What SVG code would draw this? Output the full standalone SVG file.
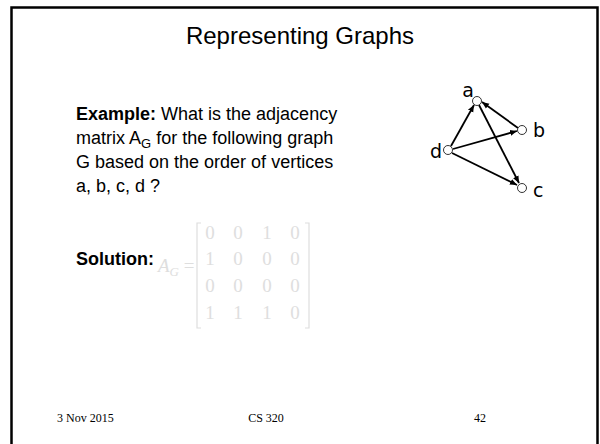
<svg xmlns="http://www.w3.org/2000/svg" width="600" height="444" viewBox="0 0 600 444">
<defs>
<marker id="ah" markerWidth="8" markerHeight="8" refX="7" refY="4" orient="auto" markerUnits="userSpaceOnUse">
<path d="M0,1 L7,4 L0,7 z" fill="#000"/>
</marker>
<style>
.t{font-family:"Liberation Sans",Arial,sans-serif;fill:#000}
.b{font-weight:bold}
.n{fill:#fff;stroke:#000;stroke-width:0.8}
.lbl{font-family:"DejaVu Sans","Liberation Sans",sans-serif;font-size:19px;fill:#000}
.e{stroke:#000;stroke-width:1.8;fill:none;marker-end:url(#ah)}
.m{font-family:"Liberation Serif","Times New Roman",serif;font-size:19px;fill:#dedede}
.f{font-family:"Liberation Serif","Times New Roman",serif;font-size:12px;fill:#000}
</style>
</defs>
<rect x="0" y="0" width="600" height="444" fill="#fff"/>
<rect x="11.5" y="7.5" width="586" height="450" fill="none" stroke="#000" stroke-width="2.5"/>
<text class="t" x="300" y="44" font-size="24" text-anchor="middle">Representing Graphs</text>
<g class="t" font-size="18">
<text x="76" y="120"><tspan class="b">Example:</tspan> What is the adjacency</text>
<text x="76" y="144">matrix A<tspan font-size="13" dy="4">G</tspan><tspan dy="-4"> for the following graph</tspan></text>
<text x="76" y="168">G based on the order of vertices</text>
<text x="76" y="192">a, b, c, d ?</text>
<text x="76" y="265" class="b">Solution:</text>
</g>
<g id="matrix">
<text class="m" x="158" y="272" font-style="italic">A<tspan font-size="13" dy="4">G</tspan><tspan dy="-4" font-style="normal"> =</tspan></text>
<path d="M201,223 H197 V328 H201 M305,223 H309 V328 H305" fill="none" stroke="#dedede" stroke-width="1.2"/>
<g class="m" text-anchor="middle">
<text x="210" y="239">0</text><text x="238" y="239">0</text><text x="267" y="239">1</text><text x="295" y="239">0</text>
<text x="210" y="265">1</text><text x="238" y="265">0</text><text x="267" y="265">0</text><text x="295" y="265">0</text>
<text x="210" y="292">0</text><text x="238" y="292">0</text><text x="267" y="292">0</text><text x="295" y="292">0</text>
<text x="210" y="319">1</text><text x="238" y="319">1</text><text x="267" y="319">1</text><text x="295" y="319">0</text>
</g>
</g>
<g id="edges">
<line class="e" x1="451" y1="146" x2="474" y2="105"/>
<line class="e" x1="518" y1="128" x2="482" y2="102"/>
<line class="e" x1="453" y1="149" x2="517" y2="131"/>
<line class="e" x1="452" y1="153" x2="517" y2="185"/>
<line class="e" x1="479" y1="105" x2="519" y2="183"/>
</g>
<g id="a"><circle class="n" cx="477" cy="101" r="4.5"/><text class="lbl" x="468" y="97" text-anchor="middle">a</text></g>
<g id="b"><circle class="n" cx="522" cy="130" r="4.5"/><text class="lbl" x="533" y="137">b</text></g>
<g id="c"><circle class="n" cx="522" cy="188" r="4.5"/><text class="lbl" x="533" y="197">c</text></g>
<g id="d"><circle class="n" cx="448" cy="150" r="4.5"/><text class="lbl" x="430" y="158">d</text></g>
<text class="f" x="57" y="422">3 Nov 2015</text>
<text class="f" x="266" y="422" text-anchor="middle">CS 320</text>
<text class="f" x="474" y="422">42</text>
</svg>
